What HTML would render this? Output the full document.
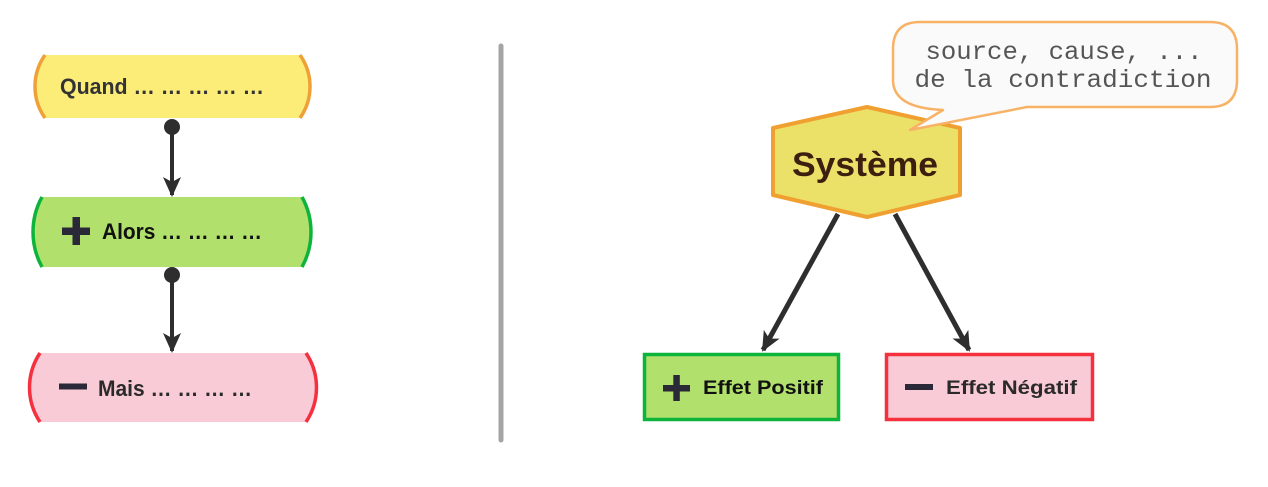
<!DOCTYPE html>
<html>
<head>
<meta charset="utf-8">
<style>
  html,body{margin:0;padding:0;background:#fff;}
  body{width:1268px;height:487px;overflow:hidden;}
  svg{display:block;}
  .lbl{font-family:"Liberation Sans",sans-serif;font-weight:bold;}
</style>
</head>
<body>
<svg width="1268" height="487" viewBox="0 0 1268 487" xmlns="http://www.w3.org/2000/svg">
  <defs>
    <filter id="blur" x="-200%" y="-10%" width="500%" height="120%">
      <feGaussianBlur stdDeviation="1.5"/>
    </filter>
    <marker id="ah" viewBox="0 0 20 20" refX="18" refY="10" markerWidth="20" markerHeight="20" markerUnits="userSpaceOnUse" orient="auto">
      <path d="M0,1 L20,10 L0,19 L5,10 Z" fill="#2e2e2e"/>
    </marker>
  </defs>

  <!-- LEFT: Quand -->
  <path d="M45,55 L300,55 A54.6,54.6 0 0 1 300,118 L45,118 A54.6,54.6 0 0 1 45,55 Z" fill="#fcec78"/>
  <path d="M45,55 A54.6,54.6 0 0 0 45,118" fill="none" stroke="#f0a038" stroke-width="3.5"/>
  <path d="M300,55 A54.6,54.6 0 0 1 300,118" fill="none" stroke="#f0a038" stroke-width="3.5"/>
  <text class="lbl" x="60" y="94" font-size="22" fill="#333" textLength="204" lengthAdjust="spacingAndGlyphs">Quand … … … … …</text>

  <!-- connector 1 -->
  <circle cx="172" cy="127" r="8" fill="#2e2e2e"/>
  <line x1="172" y1="127" x2="172" y2="195" stroke="#2e2e2e" stroke-width="4" marker-end="url(#ah)"/>

  <!-- LEFT: Alors -->
  <path d="M42,197 L302,197 A72.6,72.6 0 0 1 302,267 L42,267 A72.6,72.6 0 0 1 42,197 Z" fill="#b1e06c"/>
  <path d="M42,197 A72.6,72.6 0 0 0 42,267" fill="none" stroke="#0db43c" stroke-width="3.5"/>
  <path d="M302,197 A72.6,72.6 0 0 1 302,267" fill="none" stroke="#0db43c" stroke-width="3.5"/>
  <rect x="62" y="227.5" width="28" height="7.5" fill="#2b2838"/>
  <rect x="72.5" y="217" width="7.5" height="28" fill="#2b2838"/>
  <text class="lbl" x="102" y="239" font-size="22" fill="#111" textLength="160" lengthAdjust="spacingAndGlyphs">Alors … … … …</text>

  <!-- connector 2 -->
  <circle cx="172" cy="275" r="8" fill="#2e2e2e"/>
  <line x1="172" y1="275" x2="172" y2="351" stroke="#2e2e2e" stroke-width="4" marker-end="url(#ah)"/>

  <!-- LEFT: Mais -->
  <path d="M40,353 L306,353 A62,62 0 0 1 306,422 L40,422 A62,62 0 0 1 40,353 Z" fill="#f9cbd6"/>
  <path d="M40,353 A62,62 0 0 0 40,422" fill="none" stroke="#f5303f" stroke-width="3.5"/>
  <path d="M306,353 A62,62 0 0 1 306,422" fill="none" stroke="#f5303f" stroke-width="3.5"/>
  <rect x="59" y="383.5" width="28" height="6" fill="#2b2838"/>
  <text class="lbl" x="98" y="396" font-size="22" fill="#2a2a2a" textLength="154" lengthAdjust="spacingAndGlyphs">Mais … … … …</text>

  <!-- separator -->
  <line x1="501" y1="46" x2="501" y2="440" stroke="#9a9a9a" stroke-width="6" stroke-linecap="round" filter="url(#blur)" opacity="0.8"/>
  <line x1="501" y1="46" x2="501" y2="440" stroke="#a4a4a4" stroke-width="5" stroke-linecap="round"/>

  <!-- RIGHT: arrows -->
  <line x1="838" y1="214" x2="763" y2="350" stroke="#2e2e2e" stroke-width="5" marker-end="url(#ah)"/>
  <line x1="895" y1="214" x2="969" y2="350" stroke="#2e2e2e" stroke-width="5" marker-end="url(#ah)"/>

  <!-- hexagon -->
  <path d="M867,107 L960,128 L960,195 L867,217 L773,195 L773,128 Z" fill="#ece168" stroke="#f0a030" stroke-width="4" stroke-linejoin="round"/>
  <text class="lbl" x="792" y="176" font-size="34" fill="#3d1f0f" textLength="146" lengthAdjust="spacingAndGlyphs">Système</text>

  <!-- speech bubble -->
  <path d="M1027,107 L1210,107 Q1237,107 1237,80 L1237,49 Q1237,22 1210,22 L920,22 Q893,22 893,49 L893,80 Q893,108 943,110 L910,130 Z" fill="#fafafa" stroke="#f8b266" stroke-width="2.5" stroke-linejoin="round"/>
  <text x="1064" y="59" font-family="'Liberation Mono',monospace" font-size="25" fill="#555" text-anchor="middle" textLength="277" lengthAdjust="spacingAndGlyphs">source, cause, ...</text>
  <text x="1063" y="87" font-family="'Liberation Mono',monospace" font-size="25" fill="#555" text-anchor="middle" textLength="297" lengthAdjust="spacingAndGlyphs">de la contradiction</text>

  <!-- Effet Positif -->
  <rect x="644.5" y="354.5" width="194" height="65" fill="#b1e06c" stroke="#0db43c" stroke-width="3.5"/>
  <rect x="663" y="385" width="27" height="6.5" fill="#2b2838"/>
  <rect x="673.3" y="375" width="6.5" height="26" fill="#2b2838"/>
  <text class="lbl" x="703" y="394" font-size="19" fill="#111" textLength="120" lengthAdjust="spacingAndGlyphs">Effet Positif</text>

  <!-- Effet Négatif -->
  <rect x="886.5" y="354.5" width="206" height="65" fill="#f9cbd6" stroke="#f5303f" stroke-width="3.5"/>
  <rect x="905" y="384" width="28" height="6" fill="#2b2838"/>
  <text class="lbl" x="946" y="394" font-size="19" fill="#2a2a2a" textLength="131" lengthAdjust="spacingAndGlyphs">Effet Négatif</text>
</svg>
</body>
</html>
